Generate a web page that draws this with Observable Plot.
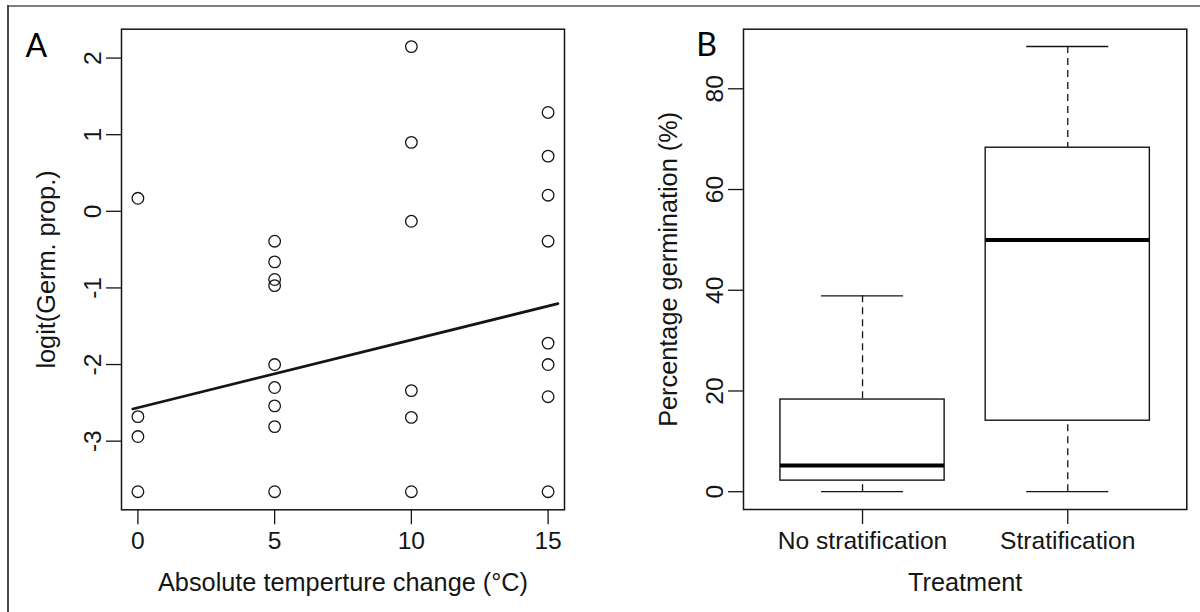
<!DOCTYPE html>
<html>
<head>
<meta charset="utf-8">
<script src="https://cdn.jsdelivr.net/npm/d3@7"></script>
<script src="https://cdn.jsdelivr.net/npm/@observablehq/plot@0.6"></script>
<style>
  html, body { margin: 0; padding: 0; background: #fff; }
  #fig { position: relative; width: 1200px; height: 612px; overflow: hidden; background: #fff; }
  .panel { position: absolute; top: 0; }
  #edgeTop { position: absolute; left: 7px; top: 5px; right: 0; height: 2px; background: #808080; }
  #edgeLeft { position: absolute; left: 7px; top: 5px; bottom: 0; width: 2px; background: #4a4a4a; }
</style>
</head>
<body>
<div id="fig"><div id="edgeTop"></div><div id="edgeLeft"></div></div>
<script>
// Panel A: logit germination proportion against absolute temperature change
const tempChange = [0, 0, 0, 0,
  5, 5, 5, 5, 5, 5, 5, 5, 5,
  10, 10, 10, 10, 10, 10,
  15, 15, 15, 15, 15, 15, 15, 15];
const logitGerm = [0.17, -2.68, -2.94, -3.66,
  -0.39, -0.66, -0.89, -0.97, -2.0, -2.3, -2.54, -2.81, -3.66,
  2.15, 0.9, -0.13, -2.34, -2.69, -3.66,
  1.29, 0.72, 0.21, -0.39, -1.72, -2.0, -2.42, -3.66];
// fitted regression line, end points
const fitX = [-0.19, 15.36];
const fitY = [-2.58, -1.205];
const tempTicks = [0, 5, 10, 15];
const logitTicks = [-3, -2, -1, 0, 1, 2];

// Panel B: percentage germination by treatment (box summaries)
const treatments = ["No stratification", "Stratification"];
const whiskerLow = [0, 0];
const quartile1 = [2.2, 14.1];
const medians = [5.2, 50.0];
const quartile3 = [18.3, 68.3];
const whiskerHigh = [38.9, 88.4];
const germTicks = [0, 20, 40, 60, 80];

const points = tempChange.map((t, i) => ({t, v: logitGerm[i]}));
const fit = fitX.map((x, i) => ({x, y: fitY[i]}));
const boxes = treatments.map((name, i) => ({
  name, pos: i + 1,
  lo: whiskerLow[i], q1: quartile1[i], med: medians[i], q3: quartile3[i], hi: whiskerHigh[i]
}));

const ink = "#151515";
const baseStyle = {
  fontFamily: "'Liberation Sans', Arial, sans-serif",
  fontSize: "24.6px",
  color: ink,
  background: "transparent",
  overflow: "visible"
};
const titleSize = 25.3;
const label = (s) => [s];

const plotA = Plot.plot({
  width: 600, height: 612,
  marginLeft: 121, marginRight: 36, marginTop: 28.7, marginBottom: 102.7,
  style: baseStyle,
  x: {domain: [-0.6, 15.6]},
  y: {domain: [-3.896, 2.377]},
  marks: [
    Plot.axisX({ticks: tempTicks, tickSize: 15, tickPadding: 7, tickFormat: d => String(d), label: null, strokeWidth: 1.3}),
    Plot.axisY({ticks: logitTicks, tickSize: 15, tickPadding: 6, tickRotate: -90, tickFormat: d => String(d), label: null, strokeWidth: 1.3}),
    Plot.dot(points, {x: "t", y: "v", r: 5.8, stroke: ink, strokeWidth: 1.3, fill: "none"}),
    Plot.line(fit, {x: "x", y: "y", stroke: ink, strokeWidth: 2.7}),
    Plot.frame({stroke: ink, strokeWidth: 1.5}),
    Plot.text(label("Absolute temperture change (°C)"), {text: d => d, frameAnchor: "bottom", lineAnchor: "bottom", dy: 81, fontSize: titleSize, fill: ink}),
    Plot.text(label("logit(Germ. prop.)"), {text: d => d, frameAnchor: "left", rotate: -90, lineAnchor: "bottom", textAnchor: "middle", dx: -67, fontSize: titleSize, fill: ink}),
    Plot.text(label("A"), {text: d => d, frameAnchor: "top-left", textAnchor: "start", lineAnchor: "bottom", dx: -96, dy: 27.3, fontFamily: "Lato, 'Open Sans', sans-serif", fontSize: 32, fill: "#000"})
  ]
});

const plotB = Plot.plot({
  width: 600, height: 612,
  marginLeft: 143, marginRight: 13.7, marginTop: 28.7, marginBottom: 103,
  style: baseStyle,
  x: {domain: [0.42, 2.58]},
  y: {domain: [-3.532, 91.832]},
  marks: [
    Plot.axisX({ticks: [1, 2], tickSize: 15, tickPadding: 7, tickFormat: d => treatments[d - 1], label: null, strokeWidth: 1.3}),
    Plot.axisY({ticks: germTicks, tickSize: 15, tickPadding: 6, tickRotate: -90, tickFormat: d => String(d), label: null, strokeWidth: 1.3}),
    // dashed whiskers, drawn from whisker end toward the box
    Plot.ruleX(boxes, {x: "pos", y1: "hi", y2: "q3", stroke: ink, strokeWidth: 1.3, strokeDasharray: "7,5"}),
    Plot.ruleX(boxes, {x: "pos", y1: "lo", y2: "q1", stroke: ink, strokeWidth: 1.3, strokeDasharray: "7,5"}),
    // whisker caps
    Plot.ruleY(boxes, {y: "hi", x1: d => d.pos - 0.2, x2: d => d.pos + 0.2, stroke: ink, strokeWidth: 1.3}),
    Plot.ruleY(boxes, {y: "lo", x1: d => d.pos - 0.2, x2: d => d.pos + 0.2, stroke: ink, strokeWidth: 1.3}),
    // interquartile boxes
    Plot.rect(boxes, {x1: d => d.pos - 0.4, x2: d => d.pos + 0.4, y1: "q1", y2: "q3", fill: "white", stroke: ink, strokeWidth: 1.4}),
    // medians
    Plot.ruleY(boxes, {y: "med", x1: d => d.pos - 0.4, x2: d => d.pos + 0.4, stroke: "#000", strokeWidth: 4}),
    Plot.frame({stroke: ink, strokeWidth: 1.5}),
    Plot.text(label("Treatment"), {text: d => d, frameAnchor: "bottom", lineAnchor: "bottom", dy: 81, fontSize: titleSize, fill: ink}),
    Plot.text(label("Percentage germination (%)"), {text: d => d, frameAnchor: "left", rotate: -90, lineAnchor: "bottom", textAnchor: "middle", dx: -67, fontSize: titleSize, fill: ink}),
    Plot.text(label("B"), {text: d => d, frameAnchor: "top-left", textAnchor: "start", lineAnchor: "bottom", dx: -47.3, dy: 27, fontFamily: "Lato, 'Open Sans', sans-serif", fontSize: 32, fill: "#000"})
  ]
});

const fig = document.getElementById("fig");
plotA.classList.add("panel");
plotA.style.left = "0px";
plotB.classList.add("panel");
plotB.style.left = "600px";
fig.appendChild(plotA);
fig.appendChild(plotB);
</script>
</body>
</html>
